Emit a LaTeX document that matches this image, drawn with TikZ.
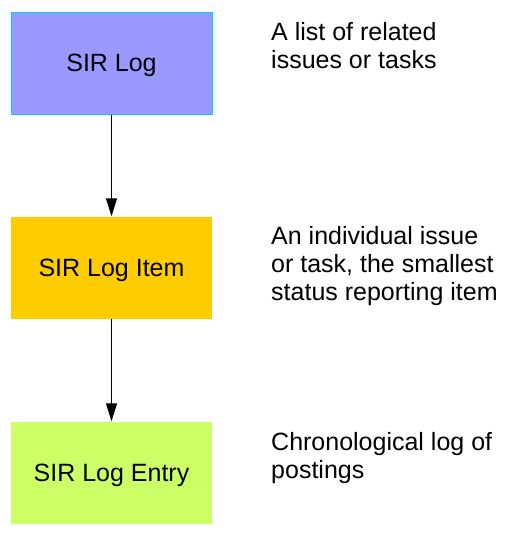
\documentclass[tikz,border=0pt]{standalone}
\usepackage{fontspec}
\setmainfont{Liberation Sans}
\usetikzlibrary{arrows.meta}
\definecolor{boxblue}{HTML}{9999FF}
\definecolor{boxcyan}{HTML}{00CCFF}
\definecolor{boxorange}{HTML}{FFCC00}
\definecolor{boxgreen}{HTML}{CCFF66}
\tikzset{
  x=1pt, y=1pt,
  sirbox/.style={rectangle, minimum width=201pt, minimum height=102pt, inner sep=0pt,
    text height=17.8pt, text depth=0pt, font=\fontsize{25}{28}\selectfont},
  desc/.style={anchor=base west, inner sep=0pt, font=\fontsize{25}{28}\selectfont},
  conn/.style={line width=1pt, -{Triangle[length=18pt,width=11pt]}}
}
\begin{document}
\begin{tikzpicture}
\useasboundingbox (0,0) rectangle (515,-538);
\node[sirbox, fill=boxblue, draw=boxcyan, line width=1pt] (log) at (111.5,-63) {SIR Log};
\node[sirbox, fill=boxorange] (item) at (111.5,-267.5) {SIR Log Item};
\node[sirbox, fill=boxgreen] (entry) at (111.5,-472.5) {SIR Log Entry};
\draw[conn] (log.south) -- (item.north);
\draw[conn] (item.south) -- (entry.north);
\node[desc] (d1) at (271,-40) {\begin{tabular}[t]{@{}l@{}}A list of related\\issues or tasks\end{tabular}};
\node[desc] (d2) at (271,-244) {\begin{tabular}[t]{@{}l@{}}An individual issue\\or task, the smallest\\status reporting item\end{tabular}};
\node[desc] (d3) at (271,-450) {\begin{tabular}[t]{@{}l@{}}Chronological log of\\postings\end{tabular}};
\end{tikzpicture}
\end{document}
